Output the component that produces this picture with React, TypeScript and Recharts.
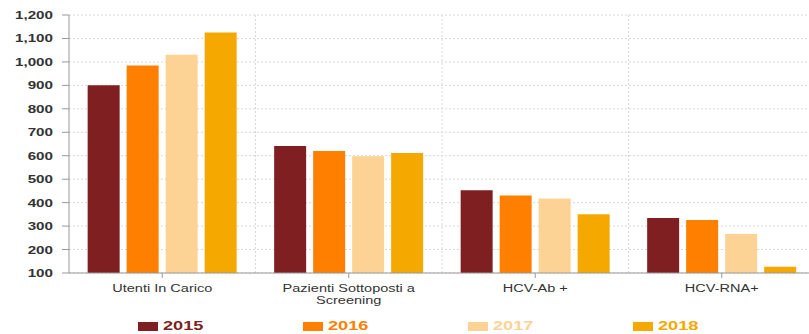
import { BarChart, Bar, XAxis, YAxis, CartesianGrid } from 'recharts';

const categories = ['Utenti In Carico', 'Pazienti Sottoposti a Screening', 'HCV-Ab +', 'HCV-RNA+'];
const categoryLines: Record<string, string[]> = {
  'Pazienti Sottoposti a Screening': ['Pazienti Sottoposti a', 'Screening'],
};
const years = ['2015', '2016', '2017', '2018'];
const colors = ['#7f1f22', '#ff7f00', '#fdd395', '#f5a800'];
const values2015 = [900, 641, 453, 334];
const values2016 = [985, 620, 430, 326];
const values2017 = [1030, 598, 418, 266];
const values2018 = [1125, 612, 350, 127];
const yTicks = [100, 200, 300, 400, 500, 600, 700, 800, 900, 1000, 1100, 1200];

const seriesValues = [values2015, values2016, values2017, values2018];
const data = categories.map((name, i) => {
  const row: Record<string, string | number> = { name };
  years.forEach((y, j) => { row[y] = seriesValues[j][i]; });
  return row;
});

const FONT = '"Liberation Sans", Arial, sans-serif';
const STRETCH = 1.32;

function YTick(props: any) {
  const { x, y, payload } = props;
  return (
    <text
      transform={`translate(${x},${y + 4}) scale(${STRETCH},1)`}
      textAnchor="end"
      fontFamily={FONT}
      fontSize={11.5}
      fontWeight={600}
      fill="#333"
    >
      {Number(payload.value).toLocaleString('en-US')}
    </text>
  );
}

function XTick(props: any) {
  const { x, y, payload } = props;
  const lines = categoryLines[payload.value] ?? [payload.value];
  return (
    <g>
      {lines.map((line, i) => (
        <text
          key={i}
          transform={`translate(${x},${y + 14 + i * 12}) scale(${STRETCH},1)`}
          textAnchor="middle"
          fontFamily={FONT}
          fontSize={11}
          fill="#333"
        >
          {line}
        </text>
      ))}
    </g>
  );
}

export default function App() {
  return (
    <div style={{ position: 'absolute', left: 0, top: 0, width: 809, height: 334, overflow: 'hidden', background: '#fff' }}>
      <BarChart
        width={815}
        height={334}
        data={data}
        margin={{ top: 15, right: 0, left: 9, bottom: 31 }}
        barCategoryGap="10%"
        barGap={7}
      >
        <CartesianGrid
          stroke="#d8d8d8"
          strokeDasharray="2 2"
          verticalCoordinatesGenerator={(p: any) => {
            const o = p?.offset ?? { left: 69, width: 746 };
            return [1, 2, 3].map(i => o.left + (i * o.width) / 4);
          }}
        />
        <XAxis
          dataKey="name"
          height={30}
          tickSize={5}
          tickMargin={0}
          stroke="#999"
          tick={<XTick />}
          interval={0}
        />
        <YAxis
          width={60}
          domain={[100, 1200]}
          ticks={yTicks}
          allowDataOverflow
          tickSize={7}
          tickMargin={9}
          stroke="#999"
          tick={<YTick />}
          interval={0}
        />
        {years.map((y, j) => (
          <Bar key={y} dataKey={y} fill={colors[j]} isAnimationActive={false} />
        ))}
      </BarChart>
      <div style={{ position: 'absolute', left: 138, top: 319, display: 'flex' }}>
        {years.map((y, j) => (
          <div key={y} style={{ width: 165, display: 'flex', alignItems: 'center', height: 14 }}>
            <span style={{ display: 'inline-block', width: 20, height: 9, background: colors[j] }} />
            <span
              style={{
                display: 'inline-block',
                marginLeft: 5,
                color: colors[j],
                fontFamily: FONT,
                fontSize: 13,
                fontWeight: 700,
                lineHeight: '14px',
                transform: 'scaleX(1.4)',
                transformOrigin: 'left center',
              }}
            >
              {y}
            </span>
          </div>
        ))}
      </div>
    </div>
  );
}
